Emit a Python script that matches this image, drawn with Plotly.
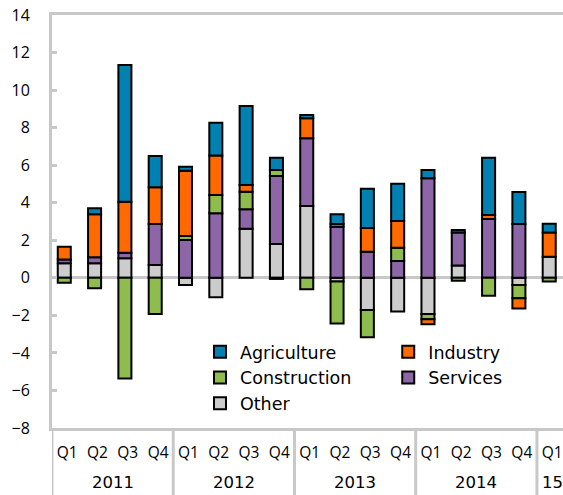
import plotly.graph_objects as go

# Quarterly contributions by sector (percentage points)
years = ["2011"] * 4 + ["2012"] * 4 + ["2013"] * 4 + ["2014"] * 4 + ["15"]
quarters = ["Q1", "Q2", "Q3", "Q4"] * 4 + ["Q1"]
periods = [f"{y} {q}" for y, q in zip(years, quarters)]

other = [0.77, 0.77, 1.04, 0.68, -0.38, -1.04, 2.62, 1.80, 3.83, -0.20, -1.72, -1.80, -1.93, 0.65, None, -0.38, 1.12]
services = [0.21, 0.32, 0.30, 2.19, 2.01, 3.44, 1.03, 3.62, 3.60, 2.72, 1.39, 0.89, 5.30, 1.77, 3.13, 2.87, None]
construction = [-0.26, -0.56, -5.36, -1.93, 0.22, 0.97, 0.94, 0.32, -0.61, -2.23, -1.45, 0.71, -0.28, -0.15, -0.95, -0.71, -0.20]
industry = [0.68, 2.29, 2.71, 1.95, 3.48, 2.11, 0.35, -0.06, 1.07, 0.15, 1.26, 1.43, -0.27, None, 0.22, -0.54, 1.30]
agriculture = [None, 0.32, 7.29, 1.67, 0.21, 1.74, 4.21, 0.66, 0.17, 0.51, 2.10, 1.98, 0.44, 0.13, 3.05, 1.70, 0.46]

y_ticks = list(range(-8, 16, 2))

# (name, values, colour, legend column)
series = [
    ("Other", other, "#CCCCCC", "legend"),
    ("Services", services, "#8C66A6", "legend2"),
    ("Construction", construction, "#8FBC4E", "legend"),
    ("Industry", industry, "#FF6A00", "legend2"),
    ("Agriculture", agriculture, "#0081B1", "legend"),
]

axis_grey = "#C8C8C8"
num_font = "Open Sans"
text_font = "DejaVu Sans"

fig = go.Figure()
for name, vals, color, leg in series:
    fig.add_trace(go.Bar(
        x=periods,
        y=vals,
        name=name,
        legend=leg,
        width=0.43,
        offset=-0.31,
        marker=dict(color=color, line=dict(color="#000000", width=2)),
    ))

# year groups: label centred under each group, divider at each group edge
groups = []
for i, y in enumerate(years):
    if not groups or groups[-1][0] != y:
        groups.append([y, i, i])
    else:
        groups[-1][2] = i

below = 67 / 413  # depth of the label band in plot-height units
for label, first, last in groups:
    fig.add_annotation(
        x=(first + last) / 2, y=0, xref="x", yref="paper",
        text=label, showarrow=False, yanchor="middle", yshift=-54,
        font=dict(family=text_font, size=16.5, color="#000000"),
    )
    fig.add_shape(
        type="line", xref="x", yref="paper",
        x0=first - 0.5, x1=first - 0.5, y0=0, y1=-below,
        line=dict(color=axis_grey, width=3),
    )

legend_style = dict(
    orientation="v",
    traceorder="reversed",
    yanchor="top",
    xanchor="left",
    y=0.228,
    bgcolor="rgba(0,0,0,0)",
    font=dict(family=text_font, size=17.5, color="#000000"),
    itemclick=False,
)

fig.update_layout(
    barmode="relative",
    width=563,
    height=495,
    margin=dict(l=52, r=0, t=15, b=67),
    paper_bgcolor="white",
    plot_bgcolor="white",
    font=dict(family=num_font, size=16, color="#000000"),
    legend=dict(x=0.2896, **legend_style),
    legend2=dict(x=0.658, **legend_style),
    showlegend=True,
)

fig.update_xaxes(
    type="category",
    range=[-0.5, 16.36],
    tickvals=periods,
    ticktext=quarters,
    tickangle=0,
    automargin=False,
    showline=True,
    linecolor=axis_grey,
    linewidth=3,
    mirror=True,
    showgrid=False,
    ticks="",
    ticklabelstandoff=8,
    tickfont=dict(family=num_font, size=15.5, color="#000000"),
)

fig.update_yaxes(
    range=[-8, 14],
    tickvals=y_ticks,
    automargin=False,
    showline=True,
    linecolor=axis_grey,
    linewidth=3,
    ticks="inside",
    ticklen=5,
    tickwidth=3,
    tickcolor=axis_grey,
    ticklabelstandoff=16,
    showgrid=False,
    zeroline=True,
    zerolinecolor=axis_grey,
    zerolinewidth=3,
    tickfont=dict(family=num_font, size=16, color="#000000"),
)

fig.write_html("out.html")
